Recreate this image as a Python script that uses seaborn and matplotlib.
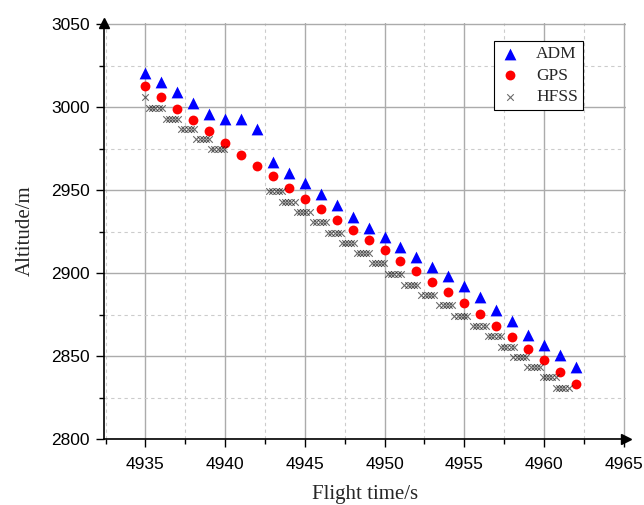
import numpy as np
import pandas as pd
import matplotlib
matplotlib.use("Agg")
import matplotlib.pyplot as plt
import seaborn as sns
from matplotlib.ticker import MultipleLocator

# ADM / GPS: one point per second
t_sec = list(range(4935, 4963))
adm_alt = [3021, 3015, 3009, 3002.6, 2996, 2993, 2993, 2987, 2966.8, 2960.6,
           2954.6, 2948, 2941, 2934, 2927.6, 2922, 2915.6, 2909.6, 2903.8, 2898.6,
           2892.2, 2885.6, 2878.2, 2871, 2863, 2857, 2850.6, 2843.6]
gps_alt = [3013, 3006.4, 2999.2, 2992.4, 2985.6, 2978.8, 2971.6, 2964.8, 2958.4, 2951.6,
           2945, 2938.6, 2932.4, 2926.2, 2920.2, 2914.2, 2907.6, 2901.2, 2895, 2888.5,
           2882, 2875.4, 2868.2, 2861.4, 2854.6, 2847.6, 2840.4, 2833.2]

# HFSS: bursts of samples (0.2 s apart), start time and altitude of each burst
hfss_start = [4935.23, 4936.27, 4937.25, 4938.2, 4939.13, 4942.77, 4943.56, 4944.5,
              4945.53, 4946.47, 4947.31, 4948.25, 4949.19, 4950.22, 4951.25, 4952.31,
              4953.44, 4954.38, 4955.56, 4956.5, 4957.31, 4958.09, 4958.97, 4959.94,
              4960.75]
hfss_alt = [2999.5, 2993.2, 2987.2, 2981, 2975, 2949.6, 2943.2, 2937, 2930.7, 2924.5,
            2918.3, 2912.4, 2906, 2899.6, 2893.2, 2887, 2880.9, 2874.6, 2868.2, 2862,
            2855.6, 2849.6, 2843.4, 2837.4, 2831]
hfss_offsets = [0, 0.2, 0.4, 0.6, 0.8]
hfss_first_t = [4935]
hfss_first_alt = [3006]

df_adm = pd.DataFrame({"t": t_sec, "alt": adm_alt})
df_gps = pd.DataFrame({"t": t_sec, "alt": gps_alt})
hfss_t = hfss_first_t + [s + o for s in hfss_start for o in hfss_offsets]
hfss_a = hfss_first_alt + [a for a in hfss_alt for o in hfss_offsets]
df_hfss = pd.DataFrame({"t": hfss_t, "alt": hfss_a})

sns.set_theme(style="white")
plt.rcParams["font.family"] = ["Liberation Sans", "DejaVu Sans"]
serif = ["Liberation Serif", "DejaVu Serif"]

fig = plt.figure(figsize=(6.44, 5.05), dpi=100)
ax = fig.add_axes([0.1615, 0.130, 0.972 - 0.1615, 0.955 - 0.130])

ax.xaxis.set_major_locator(MultipleLocator(5))
ax.xaxis.set_minor_locator(MultipleLocator(2.5))
ax.yaxis.set_major_locator(MultipleLocator(50))
ax.yaxis.set_minor_locator(MultipleLocator(25))
ax.grid(which="major", color="#ababab", lw=1.0, ls="-")
ax.grid(which="minor", color="#cccccc", lw=0.8, ls=(0, (3, 3)))
ax.set_axisbelow(True)

sns.scatterplot(data=df_adm, x="t", y="alt", ax=ax, marker="^", color="#0000ff",
                s=72, linewidth=0, label="ADM", zorder=3)
sns.scatterplot(data=df_gps, x="t", y="alt", ax=ax, marker="o", color="#ff0000",
                s=50, linewidth=0, label="GPS", zorder=3)
sns.scatterplot(data=df_hfss, x="t", y="alt", ax=ax, marker="x", color="#1a1a1a",
                s=22, linewidth=0.8, alpha=0.65, label="HFSS", zorder=3)

ax.set_xlim(4932.4, 4965.15)
ax.set_ylim(2800, 3051)

for side in ["top", "right"]:
    ax.spines[side].set_visible(False)
for side in ["left", "bottom"]:
    ax.spines[side].set_color("black")
    ax.spines[side].set_linewidth(1.2)
ax.plot(1, 0, ">", color="black", ms=7, transform=ax.transAxes, clip_on=False)
ax.plot(0, 1, "^", color="black", ms=7, transform=ax.transAxes, clip_on=False)

ax.tick_params(which="major", direction="out", length=6, width=1, colors="black",
               labelsize=12.5, bottom=True, left=True, pad=4)
ax.tick_params(which="minor", direction="out", length=3.5, width=1, colors="black",
               bottom=True, left=True)
ax.tick_params(axis="x", which="major", pad=7)

ax.set_xlabel("Flight time/s", family=serif, fontsize=15, labelpad=9)
ax.set_ylabel("Altitude/m", family=serif, fontsize=15, labelpad=12)

leg = ax.legend(loc="upper right", bbox_to_anchor=(0.918, 0.956), frameon=True,
                fancybox=False, edgecolor="black", framealpha=1,
                prop={"family": serif, "size": 12.5}, handlelength=1.2,
                handletextpad=0.9, borderpad=0.3, labelspacing=0.3,
                borderaxespad=0)
leg.get_frame().set_linewidth(0.8)

fig.savefig("out.png", dpi=100)
